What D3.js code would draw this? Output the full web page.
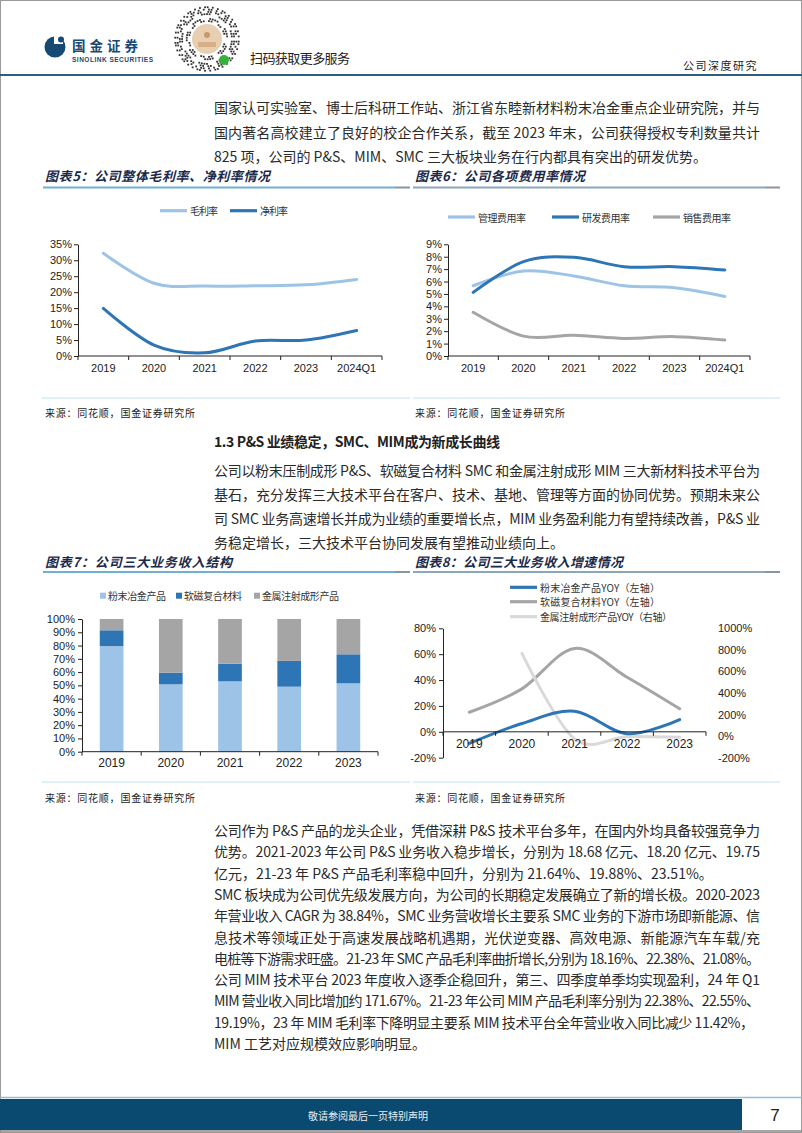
<!DOCTYPE html>
<html><head><meta charset="utf-8">
<script src="https://cdn.jsdelivr.net/npm/d3@7"></script>
<style>
html,body{margin:0;padding:0;background:#fff;}
svg{display:block;}
</style></head><body>
<svg id="page" width="802" height="1133"></svg>
<script>
// ---------------- DATA ----------------
const years5 = ['2019','2020','2021','2022','2023','2024Q1'];
const grossMargin = [32.2, 22.8, 21.9, 22.0, 22.3, 24.0];
const netMargin   = [14.9, 3.4, 1.0, 4.7, 5.0, 8.0];
const marginTicks = [0,5,10,15,20,25,30,35];

const mgmtRate  = [5.66, 6.85, 6.45, 5.66, 5.50, 4.80];
const rdRate    = [5.13, 7.60, 7.95, 7.20, 7.20, 6.93];
const salesRate = [3.52, 1.60, 1.67, 1.42, 1.56, 1.29];
const expenseTicks = [0,1,2,3,4,5,6,7,8,9];

const years7 = ['2019','2020','2021','2022','2023'];
const pmShare  = [79.6, 50.8, 53.0, 49.0, 51.5];
const smcShare = [11.9, 8.7, 13.3, 19.4, 21.9];
const mimShare = [8.5, 40.5, 33.7, 31.6, 26.6];
const shareTicks = [0,10,20,30,40,50,60,70,80,90,100];

const pmYoy  = [-9.0, 6.4, 15.9, -1.5, 9.5];
const smcYoy = [15.1, 33.2, 64.4, 42.2, 17.8];
const mimYoy = [null, 768, -25, -5, -11.42];
const leftYoyTicks = [-20,0,20,40,60,80];
const rightYoyTicks = [-200,0,200,400,600,800,1000];

// ---------------- HELPERS ----------------
const CJK = "'Noto Sans CJK SC','Noto Sans CJK JP',sans-serif";
const LAT = "'Liberation Sans',Arial,sans-serif";
const svg = d3.select('#page');

function txt(g, x, y, s, o) {
  o = o || {};
  const t = g.append('text').attr('x', x).attr('y', y)
    .attr('dominant-baseline', 'central')
    .style('font-family', o.family || CJK)
    .style('font-size', (o.size || 14) + 'px')
    .attr('fill', o.fill || '#222')
    .text(s);
  if (o.weight) t.style('font-weight', o.weight);
  if (o.italic) t.style('font-style', 'italic');
  if (o.anchor) t.attr('text-anchor', o.anchor);
  if (o.ls) t.style('letter-spacing', o.ls + 'px');
  if (o.width) t.attr('textLength', o.width).attr('lengthAdjust', 'spacing');
  return t;
}

// ---------------- PAGE FRAME ----------------
svg.append('rect').attr('x',0.5).attr('y',0.5).attr('width',801).attr('height',1132)
  .attr('fill','none').attr('stroke','#9a9a9a').attr('stroke-width',1);

// header logo
const hd = svg.append('g');
hd.append('circle').attr('cx',55).attr('cy',47).attr('r',10.5).attr('fill','#174a73');
hd.append('rect').attr('x',54).attr('y',35).attr('width',9).attr('height',9).attr('fill','#fff');
hd.append('circle').attr('cx',61).attr('cy',39.5).attr('r',3).attr('fill','#174a73');
txt(hd, 72, 44.5, '国金证券', {size:13.5, weight:'bold', fill:'#174a73', width:66});
txt(hd, 72, 59.5, 'SINOLINK SECURITIES', {size:6.5, weight:'bold', fill:'#174a73', family:LAT, width:81});

// mini-program code (decorative)
const qr = svg.append('g');
const qcx = 207, qcy = 39;
for (let ring = 0; ring < 7; ring++) {
  const r = 18 + ring * 2.3;
  const n = Math.round(2 * Math.PI * r / 2.6);
  for (let k = 0; k < n; k++) {
    const h = ((k * 37 + ring * 91 + k * ring * 13) % 7);
    if (h < 3) continue;
    const a = k / n * 2 * Math.PI;
    qr.append('rect').attr('x', qcx + r*Math.cos(a) - 0.9).attr('y', qcy + r*Math.sin(a) - 0.9)
      .attr('width',1.8).attr('height',1.8).attr('fill','#333');
  }
}
qr.append('circle').attr('cx',qcx).attr('cy',qcy).attr('r',15).attr('fill','#e9cfb2');
qr.append('circle').attr('cx',qcx).attr('cy',qcy-4).attr('r',3).attr('fill','#c79a6a');
qr.append('rect').attr('x',qcx-9).attr('y',qcy+3).attr('width',18).attr('height',5).attr('fill','#d7b08a');
qr.append('circle').attr('cx',224).attr('cy',60).attr('r',5).attr('fill','#35b03a');
txt(svg, 250, 57, '扫码获取更多服务', {size:13, fill:'#222', width:100});
txt(svg, 758, 65, '公司深度研究', {size:11, fill:'#222', anchor:'end', ls:1.5});
svg.append('line').attr('x1',0).attr('x2',802).attr('y1',75).attr('y2',75)
  .attr('stroke','#2f5d7e').attr('stroke-width',2);

// ---------------- BODY TEXT ----------------
const TX = 214, TW = 546, BODY = '#2a2a2a';
const top1 = ['国家认可实验室、博士后科研工作站、浙江省东睦新材料粉末冶金重点企业研究院，并与',
  '国内著名高校建立了良好的校企合作关系，截至 2023 年末，公司获得授权专利数量共计',
  '825 项，公司的 P&S、MIM、SMC 三大板块业务在行内都具有突出的研发优势。'];
top1.forEach((s,i) => txt(svg, TX, 107 + i*24.5, s, {width: i < 2 ? TW : null, fill:BODY}));

txt(svg, TX, 441, '1.3 P&S 业绩稳定，SMC、MIM成为新成长曲线', {weight:'bold', width:286});
const mid = ['公司以粉末压制成形 P&S、软磁复合材料 SMC 和金属注射成形 MIM 三大新材料技术平台为',
  '基石，充分发挥三大技术平台在客户、技术、基地、管理等方面的协同优势。预期未来公',
  '司 SMC 业务高速增长并成为业绩的重要增长点，MIM 业务盈利能力有望持续改善，P&S 业',
  '务稳定增长，三大技术平台协同发展有望推动业绩向上。'];
mid.forEach((s,i) => txt(svg, TX, 470 + i*24.1, s, {width: i < 3 ? TW : null, fill:BODY}));

const bot = [
  ['公司作为 P&S 产品的龙头企业，凭借深耕 P&S 技术平台多年，在国内外均具备较强竞争力', TW],
  ['优势。2021-2023 年公司 P&S 业务收入稳步增长，分别为 18.68 亿元、18.20 亿元、19.75', TW],
  ['亿元，21-23 年 P&S 产品毛利率稳中回升，分别为 21.64%、19.88%、23.51%。', null],
  ['SMC 板块成为公司优先级发展方向，为公司的长期稳定发展确立了新的增长极。2020-2023', TW],
  ['年营业收入 CAGR 为 38.84%，SMC 业务营收增长主要系 SMC 业务的下游市场即新能源、信', TW],
  ['息技术等领域正处于高速发展战略机遇期，光伏逆变器、高效电源、新能源汽车车载/充', TW],
  ['电桩等下游需求旺盛。21-23 年 SMC 产品毛利率曲折增长,分别为 18.16%、22.38%、21.08%。', TW],
  ['公司 MIM 技术平台 2023 年度收入逐季企稳回升，第三、四季度单季均实现盈利，24 年 Q1', TW],
  ['MIM 营业收入同比增加约 171.67%。21-23 年公司 MIM 产品毛利率分别为 22.38%、22.55%、', TW],
  ['19.19%，23 年 MIM 毛利率下降明显主要系 MIM 技术平台全年营业收入同比减少 11.42%，', TW - 6],
  ['MIM 工艺对应规模效应影响明显。', null]];
bot.forEach((d,i) => txt(svg, TX, 830 + i*21.3, d[0], {width: d[1], fill:BODY}));

// ---------------- CHART FRAMES ----------------
function frame(x0, x1, yTitle, yLine, title, titleW, leftPanel) {
  txt(svg, x0 + 2, yTitle, title, {size:13, weight:'bold', italic:true, fill:'#1c2a4a', width:titleW});
  const col = leftPanel ? '#6fb1d6' : '#8aa7bd';
  svg.append('line').attr('x1',x0).attr('x2',x1 - 15).attr('y1',yLine).attr('y2',yLine)
    .attr('stroke',col).attr('stroke-width',2);
  svg.append('line').attr('x1',x1 - 15).attr('x2',x1).attr('y1',yLine).attr('y2',yLine)
    .attr('stroke','#8c959c').attr('stroke-width',2);
}
frame(43, 410, 175, 187.5, '图表5：公司整体毛利率、净利率情况', 225, true);
frame(413, 780, 175, 187.5, '图表6：公司各项费用率情况', 170, false);
frame(43, 410, 561, 572, '图表7：公司三大业务收入结构', 187, true);
frame(413, 780, 561, 572, '图表8：公司三大业务收入增速情况', 208, false);
[398, 782].forEach(y => {
  svg.append('line').attr('x1',42).attr('x2',410).attr('y1',y).attr('y2',y).attr('stroke','#d3edf6').attr('stroke-width',1.5);
  svg.append('line').attr('x1',413).attr('x2',780).attr('y1',y).attr('y2',y).attr('stroke','#d3edf6').attr('stroke-width',1.5);
});
const SRC = '来源：同花顺，国金证券研究所';
[[45,412],[415,412],[45,797],[415,797]].forEach(([sx, sy]) => txt(svg, sx, sy, SRC, {size:10, width:150}));

// ---------------- AXIS HELPERS ----------------
function styleAxis(g, size) {
  g.select('.domain').attr('stroke','#222');
  g.selectAll('.tick line').attr('stroke','#222');
  g.selectAll('text').style('font-family', LAT).style('font-size', (size||11) + 'px').attr('fill','#222');
}
function bandXAxis(g, x, yAxis, yLabel, size) {
  const [r0, r1] = x.range();
  g.append('line').attr('x1', r0).attr('x2', r1).attr('y1', yAxis).attr('y2', yAxis).attr('stroke','#222');
  const step = x.step();
  const bounds = d3.range(x.domain().length + 1).map(i => r0 + i * step);
  g.selectAll(null).data(bounds).enter().append('line')
    .attr('x1', d => d).attr('x2', d => d).attr('y1', yAxis).attr('y2', yAxis + 4).attr('stroke','#222');
  g.selectAll(null).data(x.domain()).enter().append('text')
    .attr('x', d => x(d) + x.bandwidth()/2).attr('y', yLabel)
    .attr('text-anchor','middle').attr('dominant-baseline','central')
    .style('font-family', LAT).style('font-size', (size||11) + 'px').attr('fill','#222')
    .text(d => d);
}
const smooth = d3.curveCatmullRom.alpha(0);
function drawLine(g, x, y, cats, vals, color, w) {
  const line = d3.line().defined(d => d.v !== null)
    .x(d => x(d.c) + x.bandwidth()/2).y(d => y(d.v)).curve(smooth);
  g.append('path').datum(cats.map((c,i) => ({c, v: vals[i]})))
    .attr('d', line).attr('fill','none').attr('stroke', color)
    .attr('stroke-width', w || 3).attr('stroke-linecap','round').attr('stroke-linejoin','round');
}
function legendLine(g, x, y, color, label, lw) {
  g.append('line').attr('x1', x).attr('x2', x + 27).attr('y1', y).attr('y2', y)
    .attr('stroke', color).attr('stroke-width', 3.2);
  txt(g, x + 30, y, label, {size:10, fill:'#333', width: lw});
}

const LIGHT = '#9dc3e6', DARK = '#2e75b6', GREY = '#a5a5a5', PALE = '#d9d9d9';

// ---------------- CHART 5 ----------------
{
  const g = svg.append('g');
  const x = d3.scaleBand().domain(years5).range([78, 382]);
  const y = d3.scaleLinear().domain([0, 35]).range([356, 244.3]);
  const ya = g.append('g').attr('transform','translate(78,0)')
    .call(d3.axisLeft(y).tickValues(marginTicks).tickFormat(d => d + '%').tickSize(4).tickSizeOuter(0).tickPadding(2));
  styleAxis(ya, 11);
  bandXAxis(g, x, 356, 368, 11);
  drawLine(g, x, y, years5, grossMargin, LIGHT);
  drawLine(g, x, y, years5, netMargin, DARK);
  legendLine(g, 160, 210.7, LIGHT, '毛利率', 28);
  legendLine(g, 230, 210.7, DARK, '净利率', 28);
}

// ---------------- CHART 6 ----------------
{
  const g = svg.append('g');
  const x = d3.scaleBand().domain(years5).range([448, 750]);
  const y = d3.scaleLinear().domain([0, 9]).range([356, 244.3]);
  const ya = g.append('g').attr('transform','translate(448,0)')
    .call(d3.axisLeft(y).tickValues(expenseTicks).tickFormat(d => d + '%').tickSize(4).tickSizeOuter(0).tickPadding(2));
  styleAxis(ya, 11);
  bandXAxis(g, x, 356, 368, 11);
  drawLine(g, x, y, years5, mgmtRate, LIGHT);
  drawLine(g, x, y, years5, salesRate, GREY);
  drawLine(g, x, y, years5, rdRate, DARK);
  legendLine(g, 448, 217, LIGHT, '管理费用率', 48);
  legendLine(g, 552, 217, DARK, '研发费用率', 48);
  legendLine(g, 653, 217, GREY, '销售费用率', 48);
}

// ---------------- CHART 7 ----------------
{
  const g = svg.append('g');
  const keys = ['pm','smc','mim'];
  const colors = {pm: LIGHT, smc: DARK, mim: GREY};
  const table = years7.map((yr,i) => ({year: yr, pm: pmShare[i], smc: smcShare[i], mim: mimShare[i]}));
  const stack = d3.stack().keys(keys)(table);
  const x = d3.scaleBand().domain(years7).range([82, 378]).paddingInner(0.6).paddingOuter(0.3);
  const y = d3.scaleLinear().domain([0, 100]).range([751.7, 619]);
  stack.forEach(layer => {
    g.selectAll(null).data(layer).enter().append('rect')
      .attr('x', d => x(d.data.year)).attr('width', x.bandwidth())
      .attr('y', d => y(d[1])).attr('height', d => y(d[0]) - y(d[1]))
      .attr('fill', colors[layer.key]);
  });
  const ya = g.append('g').attr('transform','translate(82,0)')
    .call(d3.axisLeft(y).tickValues(shareTicks).tickFormat(d => d + '%').tickSize(4).tickSizeOuter(0).tickPadding(3));
  styleAxis(ya, 11);
  const xb = d3.scaleBand().domain(years7).range([82, 378]);
  const xa = g.append('g');
  xa.append('line').attr('x1',82).attr('x2',378).attr('y1',751.7).attr('y2',751.7).attr('stroke','#222');
  d3.range(years7.length + 1).forEach(i => xa.append('line').attr('x1',82+i*xb.step()).attr('x2',82+i*xb.step())
    .attr('y1',751.7).attr('y2',755.7).attr('stroke','#222'));
  xa.selectAll(null).data(years7).enter().append('text')
    .attr('x', d => x(d) + x.bandwidth()/2).attr('y', 763).attr('text-anchor','middle')
    .attr('dominant-baseline','central').style('font-family',LAT).style('font-size','12px').attr('fill','#222')
    .text(d => d);
  const leg = [[103,'粉末冶金产品',LIGHT,58],[179,'软磁复合材料',DARK,58],[257,'金属注射成形产品',GREY,77]];
  leg.forEach(([lx, s, c, w]) => {
    g.append('rect').attr('x', lx - 3).attr('y', 592.7).attr('width', 6).attr('height', 6).attr('fill', c);
    txt(g, lx + 5, 595.7, s, {size:10, fill:'#333', width:w});
  });
}

// ---------------- CHART 8 ----------------
{
  const g = svg.append('g');
  const x = d3.scaleBand().domain(years7).range([443, 706]);
  const yL = d3.scaleLinear().domain([-20, 80]).range([757.7, 628.3]);
  const yR = d3.scaleLinear().domain([-200, 1000]).range([757.7, 628.3]);
  const ya = g.append('g').attr('transform','translate(443,0)')
    .call(d3.axisLeft(yL).tickValues(leftYoyTicks).tickFormat(d => d + '%').tickSize(4).tickSizeOuter(0).tickPadding(3));
  styleAxis(ya, 11);
  const yr = g.append('g').attr('transform','translate(712,0)')
    .call(d3.axisRight(yR).tickValues(rightYoyTicks).tickFormat(d => d + '%').tickSize(0).tickPadding(6));
  yr.select('.domain').remove();
  styleAxis(yr, 11);
  drawLine(g, x, yL, years7, smcYoy, GREY);
  drawLine(g, x, yR, years7, mimYoy, PALE);
  drawLine(g, x, yL, years7, pmYoy, DARK);
  bandXAxis(g, x, yL(0), 744, 12);
  const leg = [[587.3, DARK, '粉末冶金产品YOY（左轴）', 120], [601.7, GREY, '软磁复合材料YOY（左轴）', 120], [616.7, PALE, '金属注射成形产品YOY（右轴）', 132]];
  leg.forEach(([ly, c, s, w]) => legendLine(g, 510, ly, c, s, w));
}

// ---------------- FOOTER ----------------
svg.append('line').attr('x1',0).attr('x2',802).attr('y1',1097.5).attr('y2',1097.5).attr('stroke','#8cc3da').attr('stroke-width',1.5);
svg.append('rect').attr('x',0).attr('y',1099).attr('width',742).attr('height',31).attr('fill','#0b4a70');
txt(svg, 368, 1115, '敬请参阅最后一页特别声明', {size:10, fill:'#e8eef3', anchor:'middle', width:120});
txt(svg, 775, 1115, '7', {size:17, fill:'#222', family:LAT, anchor:'middle'});
svg.append('line').attr('x1',0).attr('x2',802).attr('y1',1131).attr('y2',1131).attr('stroke','#888').attr('stroke-width',1.5);
</script>
</body></html>
